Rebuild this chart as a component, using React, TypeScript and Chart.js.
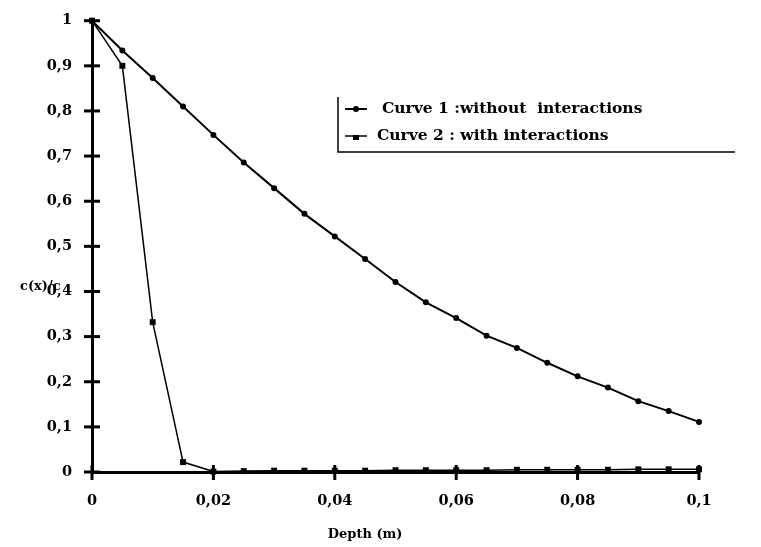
import React, { useEffect, useRef } from "react";
import { Chart, registerables } from "chart.js";

Chart.register(...registerables);

const depth = [0, 0.005, 0.01, 0.015, 0.02, 0.025, 0.03, 0.035, 0.04, 0.045, 0.05, 0.055, 0.06, 0.065, 0.07, 0.075, 0.08, 0.085, 0.09, 0.095, 0.1];
const curve1 = [1.0, 0.934, 0.873, 0.81, 0.747, 0.686, 0.629, 0.572, 0.522, 0.472, 0.421, 0.376, 0.341, 0.302, 0.275, 0.242, 0.212, 0.187, 0.157, 0.135, 0.111];
const curve2 = [1.0, 0.9, 0.332, 0.022, 0.001, 0.002, 0.003, 0.003, 0.003, 0.003, 0.004, 0.004, 0.004, 0.004, 0.005, 0.005, 0.005, 0.005, 0.006, 0.006, 0.006];
const xTicks = [0, 0.02, 0.04, 0.06, 0.08, 0.1];
const yTicks = [0, 0.1, 0.2, 0.3, 0.4, 0.5, 0.6, 0.7, 0.8, 0.9, 1];
const legendLabels = ["Curve 1 :without  interactions", "Curve 2 : with interactions"];
const xTitle = "Depth (m)";
const yTitle = "c(x)/c";

const FONT = "'DejaVu Serif'";

const fmt = (v: number) => String(Number(v.toFixed(3))).replace(".", ",");

const decor = {
  id: "decor",
  afterDraw(chart: any) {
    const { ctx, chartArea } = chart;
    const x = chart.scales.x;
    const y = chart.scales.y;
    ctx.save();
    ctx.strokeStyle = "#000";
    ctx.fillStyle = "#000";
    ctx.lineWidth = 3;
    yTicks.forEach((v) => {
      const py = y.getPixelForValue(v);
      ctx.beginPath();
      ctx.moveTo(chartArea.left - 8, py);
      ctx.lineTo(chartArea.left + 8, py);
      ctx.stroke();
    });
    xTicks.forEach((v) => {
      const px = x.getPixelForValue(v);
      ctx.beginPath();
      ctx.moveTo(px, chartArea.bottom - 7);
      ctx.lineTo(px, chartArea.bottom + 8);
      ctx.stroke();
    });

    // axis titles
    ctx.font = `bold 13px ${FONT}`;
    ctx.textBaseline = "middle";
    ctx.textAlign = "center";
    ctx.fillText(xTitle, x.getPixelForValue(0.045), chartArea.bottom + 63);
    ctx.textAlign = "left";
    ctx.fillText(yTitle, 20, y.getPixelForValue(0.41));

    // legend
    const bx = 338;
    const by = 97;
    const bw = 397;
    const bh = 55;
    ctx.lineWidth = 1.5;
    ctx.beginPath();
    ctx.moveTo(bx, by);
    ctx.lineTo(bx, by + bh);
    ctx.lineTo(bx + bw, by + bh);
    ctx.stroke();

    const rows = [109, 136];
    ctx.font = `bold 15.5px ${FONT}`;
    rows.forEach((ry, i) => {
      ctx.lineWidth = i === 0 ? 2 : 1.5;
      ctx.beginPath();
      ctx.moveTo(345, ry);
      ctx.lineTo(367, ry);
      ctx.stroke();
      if (i === 0) {
        ctx.beginPath();
        ctx.arc(356, ry, 3, 0, Math.PI * 2);
        ctx.fill();
      } else {
        ctx.fillRect(353, ry - 1, 6, 5);
      }
      ctx.fillText(legendLabels[i], i === 0 ? 382 : 377, ry);
    });
    ctx.restore();
  },
};

export default function App() {
  const ref = useRef<HTMLCanvasElement | null>(null);
  useEffect(() => {
    if (!ref.current) return;
    const chart = new Chart(ref.current, {
      type: "scatter",
      data: {
        datasets: [
          {
            label: legendLabels[0],
            data: depth.map((d, i) => ({ x: d, y: curve1[i] })),
            showLine: true,
            borderColor: "#000",
            backgroundColor: "#000",
            borderWidth: 2,
            pointStyle: "circle",
            pointRadius: 3,
            pointBorderWidth: 0,
            clip: false,
          },
          {
            label: legendLabels[1],
            data: depth.map((d, i) => ({ x: d, y: curve2[i] })),
            showLine: true,
            borderColor: "#000",
            backgroundColor: "#000",
            borderWidth: 1.5,
            pointStyle: "rect",
            pointRadius: 4.2,
            pointBorderWidth: 0,
            clip: false,
          },
        ],
      },
      options: {
        animation: false,
        responsive: false,
        devicePixelRatio: 1,
        layout: { padding: { top: 14, right: 62, left: 0, bottom: 0 } },
        plugins: { legend: { display: false }, tooltip: { enabled: false } },
        scales: {
          x: {
            type: "linear",
            min: 0,
            max: 0.1,
            afterBuildTicks: (s: any) => {
              s.ticks = xTicks.map((v) => ({ value: v }));
            },
            afterFit: (s: any) => {
              s.height = 75;
            },
            grid: { display: false },
            border: { display: true, color: "#000", width: 3 },
            ticks: {
              color: "#000",
              font: { family: FONT, size: 14.5, weight: "bold" },
              padding: 13,
              maxRotation: 0,
              callback: (v: any) => fmt(Number(v)),
            },
          },
          y: {
            type: "linear",
            min: 0,
            max: 1,
            afterBuildTicks: (s: any) => {
              s.ticks = yTicks.map((v) => ({ value: v }));
            },
            afterFit: (s: any) => {
              s.width = 92;
            },
            grid: { display: false },
            border: { display: true, color: "#000", width: 3 },
            ticks: {
              color: "#000",
              font: { family: FONT, size: 14.5, weight: "bold" },
              padding: 12,
              callback: (v: any) => fmt(Number(v)),
            },
          },
        },
      },
      plugins: [decor],
    });
    return () => chart.destroy();
  }, []);
  return (
    <div style={{ position: "absolute", left: 0, top: 0, width: 761, height: 547, background: "#fff" }}>
      <canvas ref={ref} width={761} height={547} />
    </div>
  );
}
